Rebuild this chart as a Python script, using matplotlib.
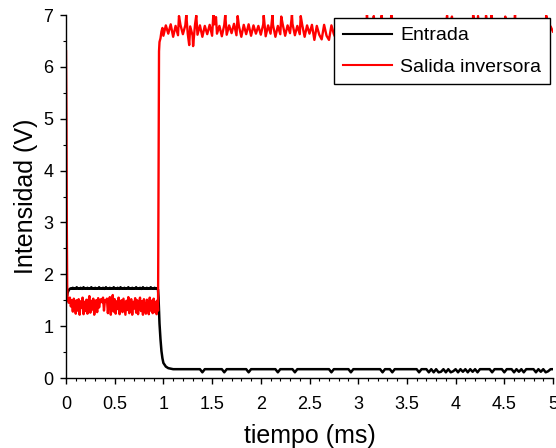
import matplotlib
matplotlib.use("Agg")
import matplotlib.pyplot as plt
from matplotlib.ticker import MultipleLocator, FormatStrFormatter

plt.rcParams['font.family'] = ['Liberation Sans', 'DejaVu Sans']

# ---- sampled signals (time in ms, voltage in V) ----
# leading edge samples
t_start = [0.000, 0.005, 0.010, 0.015]
entrada_start = [1.45, 1.52, 1.58, 1.63]
t_start_red = [0.000, 0.004, 0.008, 0.012, 0.016]
salida_start = [6.30, 5.10, 3.00, 1.80, 1.50]

# low-output interval, 0.02 .. 0.94 ms
t_early = [
    0.02, 0.03, 0.04, 0.05, 0.06, 0.07, 0.08, 0.09, 0.10, 0.11,
    0.12, 0.13, 0.14, 0.15, 0.16, 0.17, 0.18, 0.19, 0.20, 0.21,
    0.22, 0.23, 0.24, 0.25, 0.26, 0.27, 0.28, 0.29, 0.30, 0.31,
    0.32, 0.33, 0.34, 0.35, 0.36, 0.37, 0.38, 0.39, 0.40, 0.41,
    0.42, 0.43, 0.44, 0.45, 0.46, 0.47, 0.48, 0.49, 0.50, 0.51,
    0.52, 0.53, 0.54, 0.55, 0.56, 0.57, 0.58, 0.59, 0.60, 0.61,
    0.62, 0.63, 0.64, 0.65, 0.66, 0.67, 0.68, 0.69, 0.70, 0.71,
    0.72, 0.73, 0.74, 0.75, 0.76, 0.77, 0.78, 0.79, 0.80, 0.81,
    0.82, 0.83, 0.84, 0.85, 0.86, 0.87, 0.88, 0.89, 0.90, 0.91,
    0.92, 0.93, 0.94,
]
entrada_early = [
    1.66, 1.70, 1.72, 1.73, 1.72, 1.74, 1.72, 1.73, 1.72, 1.75,
    1.72, 1.73, 1.72, 1.74, 1.72, 1.72, 1.75, 1.72, 1.73, 1.72,
    1.74, 1.72, 1.73, 1.72, 1.75, 1.72, 1.73, 1.72, 1.74, 1.72,
    1.73, 1.72, 1.75, 1.72, 1.73, 1.72, 1.74, 1.72, 1.72, 1.75,
    1.72, 1.73, 1.72, 1.74, 1.72, 1.73, 1.72, 1.75, 1.72, 1.73,
    1.72, 1.74, 1.72, 1.72, 1.75, 1.72, 1.73, 1.72, 1.74, 1.72,
    1.73, 1.72, 1.75, 1.72, 1.73, 1.72, 1.74, 1.72, 1.73, 1.72,
    1.75, 1.72, 1.73, 1.72, 1.74, 1.72, 1.72, 1.75, 1.72, 1.73,
    1.72, 1.74, 1.72, 1.73, 1.72, 1.75, 1.72, 1.73, 1.72, 1.74,
    1.72, 1.73, 1.72,
]
salida_early = [
    1.52, 1.45, 1.55, 1.38, 1.50, 1.28, 1.53, 1.46, 1.24, 1.50,
    1.30, 1.52, 1.22, 1.48, 1.35, 1.55, 1.23, 1.47, 1.29, 1.51,
    1.24, 1.45, 1.58, 1.26, 1.49, 1.32, 1.53, 1.22, 1.44, 1.50,
    1.27, 1.54, 1.36, 1.48, 1.52, 1.46, 1.55, 1.30, 1.50, 1.47,
    1.53, 1.25, 1.49, 1.56, 1.22, 1.45, 1.60, 1.28, 1.52, 1.24,
    1.48, 1.33, 1.55, 1.23, 1.46, 1.50, 1.27, 1.53, 1.38, 1.22,
    1.49, 1.31, 1.56, 1.25, 1.44, 1.52, 1.22, 1.47, 1.34, 1.54,
    1.26, 1.50, 1.23, 1.45, 1.55, 1.29, 1.48, 1.22, 1.52, 1.37,
    1.24, 1.51, 1.46, 1.23, 1.55, 1.30, 1.49, 1.25, 1.53, 1.27,
    1.47, 1.23, 1.50,
]

# switching edge
t_edge = [0.945, 0.950, 0.955, 0.960, 0.970, 0.980, 0.990]
entrada_edge = [1.70, 1.55, 1.30, 1.05, 0.75, 0.52, 0.38]
salida_edge = [1.30, 3.80, 6.30, 6.48, 6.55, 6.68, 6.75]

# high-output interval, 1.000 .. 5.000 ms
t_late = [
    1.000, 1.025, 1.050, 1.075, 1.100, 1.125, 1.150, 1.175,
    1.200, 1.225, 1.250, 1.275, 1.300, 1.325, 1.350, 1.375,
    1.400, 1.425, 1.450, 1.475, 1.500, 1.525, 1.550, 1.575,
    1.600, 1.625, 1.650, 1.675, 1.700, 1.725, 1.750, 1.775,
    1.800, 1.825, 1.850, 1.875, 1.900, 1.925, 1.950, 1.975,
    2.000, 2.025, 2.050, 2.075, 2.100, 2.125, 2.150, 2.175,
    2.200, 2.225, 2.250, 2.275, 2.300, 2.325, 2.350, 2.375,
    2.400, 2.425, 2.450, 2.475, 2.500, 2.525, 2.550, 2.575,
    2.600, 2.625, 2.650, 2.675, 2.700, 2.725, 2.750, 2.775,
    2.800, 2.825, 2.850, 2.875, 2.900, 2.925, 2.950, 2.975,
    3.000, 3.025, 3.050, 3.075, 3.100, 3.125, 3.150, 3.175,
    3.200, 3.225, 3.250, 3.275, 3.300, 3.325, 3.350, 3.375,
    3.400, 3.425, 3.450, 3.475, 3.500, 3.525, 3.550, 3.575,
    3.600, 3.625, 3.650, 3.675, 3.700, 3.725, 3.750, 3.775,
    3.800, 3.825, 3.850, 3.875, 3.900, 3.925, 3.950, 3.975,
    4.000, 4.025, 4.050, 4.075, 4.100, 4.125, 4.150, 4.175,
    4.200, 4.225, 4.250, 4.275, 4.300, 4.325, 4.350, 4.375,
    4.400, 4.425, 4.450, 4.475, 4.500, 4.525, 4.550, 4.575,
    4.600, 4.625, 4.650, 4.675, 4.700, 4.725, 4.750, 4.775,
    4.800, 4.825, 4.850, 4.875, 4.900, 4.925, 4.950, 4.975,
    5.000,
]
entrada_late = [
    0.29, 0.22, 0.19, 0.18, 0.17, 0.17, 0.17, 0.17, 0.17, 0.17,
    0.17, 0.17, 0.17, 0.17, 0.17, 0.17, 0.11, 0.17, 0.17, 0.17,
    0.17, 0.17, 0.17, 0.17, 0.17, 0.11, 0.17, 0.17, 0.17, 0.17,
    0.17, 0.17, 0.17, 0.17, 0.17, 0.11, 0.17, 0.17, 0.17, 0.17,
    0.17, 0.17, 0.17, 0.17, 0.17, 0.17, 0.17, 0.11, 0.17, 0.17,
    0.17, 0.17, 0.17, 0.17, 0.11, 0.17, 0.17, 0.17, 0.17, 0.17,
    0.17, 0.17, 0.17, 0.17, 0.17, 0.17, 0.17, 0.17, 0.17, 0.11,
    0.17, 0.17, 0.17, 0.17, 0.17, 0.17, 0.17, 0.11, 0.17, 0.17,
    0.17, 0.17, 0.17, 0.17, 0.17, 0.17, 0.17, 0.17, 0.17, 0.17,
    0.11, 0.17, 0.17, 0.17, 0.11, 0.17, 0.17, 0.17, 0.17, 0.17,
    0.17, 0.17, 0.17, 0.17, 0.17, 0.11, 0.17, 0.17, 0.17, 0.11,
    0.17, 0.11, 0.17, 0.11, 0.12, 0.17, 0.11, 0.17, 0.11, 0.13,
    0.17, 0.11, 0.17, 0.12, 0.17, 0.11, 0.17, 0.12, 0.17, 0.11,
    0.17, 0.17, 0.17, 0.17, 0.17, 0.11, 0.17, 0.17, 0.17, 0.17,
    0.11, 0.17, 0.17, 0.17, 0.11, 0.17, 0.12, 0.17, 0.11, 0.17,
    0.17, 0.17, 0.17, 0.11, 0.17, 0.12, 0.17, 0.11, 0.13, 0.17,
    0.17,
]
salida_late = [
    6.60, 6.80, 6.64, 6.82, 6.58, 6.79, 6.61, 6.81, 6.63, 6.80,
    6.64, 6.78, 6.60, 6.82, 6.62, 6.80, 6.58, 6.79, 6.63, 6.81,
    6.60, 6.82, 6.64, 6.79, 6.59, 6.81, 6.62, 6.80, 6.65, 6.83,
    6.61, 6.79, 6.58, 6.81, 6.63, 6.82, 6.60, 6.80, 6.64, 6.79,
    6.62, 6.82, 6.59, 6.80, 6.64, 6.81, 6.58, 6.79, 6.63, 6.82,
    6.60, 6.80, 6.65, 6.83, 6.61, 6.79, 6.63, 6.81, 6.58, 6.80,
    6.64, 6.81, 6.52, 6.79, 6.62, 6.53, 6.81, 6.60, 6.52, 6.80,
    6.63, 6.53, 6.82, 6.61, 6.80, 6.58, 6.81, 6.64, 6.83, 6.60,
    6.79, 6.63, 6.82, 6.58, 6.80, 6.65, 6.79, 6.61, 6.81, 6.64,
    6.82, 6.60, 6.80, 6.63, 6.79, 6.58, 6.82, 6.65, 6.79, 6.60,
    6.81, 6.62, 6.83, 6.58, 6.79, 6.64, 6.82, 6.60, 6.80, 6.63,
    6.82, 6.58, 6.79, 6.65, 6.81, 6.60, 6.80, 6.64, 6.82, 6.61,
    6.80, 6.58, 6.82, 6.63, 6.79, 6.60, 6.81, 6.64, 6.82, 6.62,
    6.65, 6.82, 6.60, 6.80, 6.63, 6.81, 6.61, 6.79, 6.64, 6.82,
    6.60, 6.58, 6.80, 6.63, 6.81, 6.60, 6.82, 6.64, 6.79, 6.58,
    6.81, 6.62, 6.83, 6.60, 6.80, 6.64, 6.82, 6.61, 6.79, 6.78,
    6.68,
]

# isolated glitches on the high output level
glitch_t = [
    1.160, 1.235, 1.265, 1.305, 1.3375, 1.5125, 1.540, 1.635, 1.7625,
    2.030, 2.120, 2.210, 2.320, 2.410, 3.090, 3.160, 3.240, 3.340,
    3.9125, 3.9625, 4.180, 4.230, 4.3125, 4.370, 4.510, 4.610, 4.930,
]
glitch_v = [
    6.98, 7.00, 6.42, 6.40, 6.99, 7.00, 6.96, 7.00, 6.98,
    6.99, 7.00, 6.97, 7.00, 6.98, 7.00, 6.98, 6.99, 7.00,
    6.99, 6.97, 7.00, 6.98, 6.99, 7.00, 6.97, 7.00, 6.99,
]

t_entrada = t_start + t_early + t_edge + t_late
v_entrada = entrada_start + entrada_early + entrada_edge + entrada_late

late_pairs = sorted(zip(t_late + glitch_t, salida_late + glitch_v))
t_salida = t_start_red + t_early + t_edge + [p[0] for p in late_pairs]
v_salida = salida_start + salida_early + salida_edge + [p[1] for p in late_pairs]

series_labels = ["Entrada", "Salida inversora"]
x_label = "tiempo (ms)"
y_label = "Intensidad (V)"

# ---- figure ----
fig = plt.figure(figsize=(5.56, 4.48), dpi=100)
ax = fig.add_axes([66 / 556, 70 / 448, 487 / 556, 363 / 448])

ax.plot(t_entrada, v_entrada, color="black", lw=1.8, label=series_labels[0])
ax.plot(t_salida, v_salida, color="red", lw=1.7, label=series_labels[1])

ax.set_xlim(0, 5)
ax.set_ylim(0, 7)

ax.xaxis.set_major_locator(MultipleLocator(0.5))
ax.xaxis.set_minor_locator(MultipleLocator(0.1))
ax.yaxis.set_major_locator(MultipleLocator(1))
ax.yaxis.set_minor_locator(MultipleLocator(0.5))
ax.xaxis.set_major_formatter(FormatStrFormatter("%g"))

ax.tick_params(which="major", direction="out", length=4, width=1,
               labelsize=13, colors="black")
ax.tick_params(axis="x", which="major", pad=9)
ax.tick_params(axis="y", which="major", pad=5)
ax.tick_params(which="minor", direction="out", length=2.5, width=0.8)

for side in ("top", "right"):
    ax.spines[side].set_visible(False)
for side in ("left", "bottom"):
    ax.spines[side].set_linewidth(1.0)
    ax.spines[side].set_color("black")

ax.set_xlabel(x_label, fontsize=18, labelpad=8)
ax.set_ylabel(y_label, fontsize=18, labelpad=4)

leg = ax.legend(loc="upper right", bbox_to_anchor=(550 / 556, 1 - 18 / 448),
                bbox_transform=fig.transFigure, borderaxespad=0,
                fontsize=14, frameon=True, fancybox=False, framealpha=1,
                edgecolor="black", handlelength=2.5, handletextpad=0.45,
                borderpad=0.45, labelspacing=0.7)
leg.get_frame().set_linewidth(1.0)
for line in leg.get_lines():
    line.set_linewidth(1.5)

fig.savefig("out.png", dpi=100)
